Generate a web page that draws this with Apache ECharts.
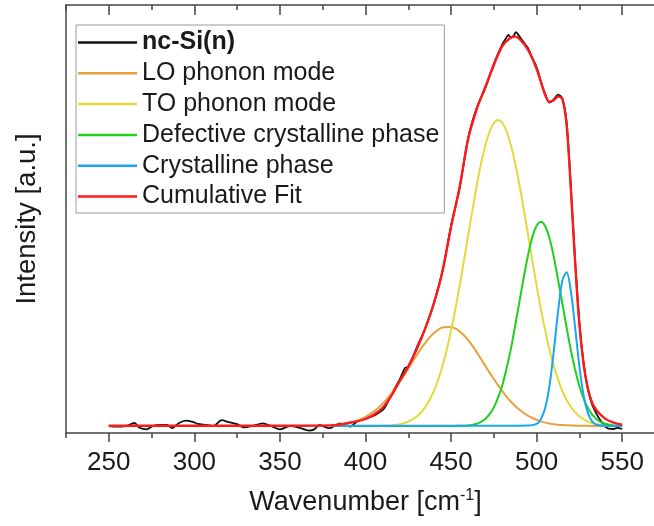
<!DOCTYPE html>
<html>
<head>
<meta charset="utf-8">
<script src="https://cdn.jsdelivr.net/npm/echarts@6/dist/echarts.min.js"></script>
<style>
html,body{margin:0;padding:0;background:#fff;overflow:hidden;width:654px;height:526px;}
#c{width:690px;height:526px;}
</style>
</head>
<body>
<div id="c"></div>
<script>
// ---- data ----
const seriesNames = ['nc-Si(n)', 'LO phonon mode', 'TO phonon mode', 'Defective crystalline phase', 'Crystalline phase', 'Cumulative Fit'];
const xTickLabels = [250, 300, 350, 400, 450, 500, 550];

// measured spectrum
const dataWn  = [250,255,260,265,268,272,276,280,284,287,291,295,299,302,307,311,316,320,325,329,334,340,345,350,356,362,367,370,373,379,385,391,396,401,406,411,415,420,423,425,430,435,440,445,450,455,460,465,470,475,480,482,483.5,485,486.5,488,489.5,492,495,497,500,503,505,507.5,510,512.5,515,517.5,520,522.5,525,527.5,530,532.5,535,537.5,540,542,545,547,550];
const dataInt = [1.75,1.6,1.7,2.5,1.3,0.9,1.8,2.0,2.0,1.2,2.5,3.1,2.8,2.3,2.0,1.7,3.2,2.7,2.2,1.4,1.75,2.4,1.7,0.9,1.8,1.2,0.6,0.9,2.0,1.2,2.4,1.6,3.2,3.7,4.6,6.2,9.6,13.4,16.2,16.6,21.4,26.3,32.5,40.5,51.8,61.2,73.8,81.3,86.2,92.3,97.2,98.6,99.5,98.8,99.3,100.2,99.4,97.9,96.2,94.2,91.4,87.2,84.8,82.6,83.4,84.6,83.6,77.8,61.5,43,27.5,17.2,10.8,7.0,4.8,3.0,1.6,1.1,1.0,1.3,1.0];

// cumulative fit
const fitWn  = [250,300,350,380,385,390,395,400,405,410,415,420,425,430,435,440,445,450,455,460,465,470,475,480,485,487.5,490,495,500,505,507.5,510,512.5,515,517.5,520,522.5,525,527.5,530,532.5,535,540,545,550];
const fitInt = [1.8,1.8,1.8,1.9,2.1,2.5,2.9,3.5,4.6,6.3,9.2,13,16.6,21,26.2,32.5,40.5,51.5,61.5,73.5,81,86.5,92,96.8,98.9,99.1,98.5,95.8,91,84.5,82.8,83.2,84.1,83.5,77,61,42.5,27,17,11,7.5,5.7,3.6,2.6,2.1];

// fitted components
const compWn = [380,385,390,395,400,405,410,415,420,425,430,435,440,445,450,455,460,465,467.5,470,472.5,475,477.5,480,482.5,485,487.5,490,492.5,495,497.5,500,502.5,505,507.5,510,515,520,525,530,535,540,545,550];
const loInt  = [1.95,2.15,2.5,3.1,4.05,5.4,7.35,9.8,12.8,16.15,19.5,22.6,25,26.4,26.5,25.4,23.2,20.2,18.5,16.8,15.1,13.5,11.9,10.4,9.05,7.8,6.75,5.8,5.0,4.3,3.75,3.3,2.9,2.6,2.4,2.2,2.0,1.9,1.8,1.8,1.75,1.75,1.75,1.75];
const toInt  = [1.75,1.75,1.75,1.75,1.75,1.75,1.8,1.9,2.2,2.85,4.1,6.5,10.5,16.75,25.6,36.8,49.4,61.9,67.3,71.9,75.35,77.5,78.25,77.5,75.35,71.9,67.3,61.9,55.85,49.4,43.0,36.8,30.9,25.6,20.8,16.75,10.5,6.5,4.1,2.85,2.2,1.9,1.8,1.75];
const defInt = [1.75,1.75,1.75,1.75,1.75,1.75,1.75,1.75,1.75,1.75,1.75,1.75,1.75,1.75,1.75,1.8,1.9,2.3,2.8,3.5,4.7,6.4,8.9,12,16.3,21.1,27.0,32.9,39.0,44.5,49.0,51.8,52.8,51.7,48.7,44.1,32.4,20.7,11.7,6.2,3.45,2.3,1.9,1.8];

const cryWn  = [380,400,420,440,460,480,495,500,502.5,505,507.5,510,512.5,515,517.5,520,522.5,525,527.5,530,532.5,535,540,545,550];
const cryInt = [1.8,1.8,1.8,1.8,1.8,1.8,1.85,2.3,3.45,6.3,11.8,20.4,30.3,38.1,40.2,35.5,26.3,16.6,9.2,4.9,2.85,2.05,1.8,1.75,1.75];

// ---- chart ----
const pair = (xs, ys) => xs.map((x, i) => [x, ys[i]]);
const FONT = '"Liberation Sans", Arial, sans-serif';
const TXT = '#1a1a1a';
const AX = '#444';

const colors = ['#111111', '#E6A23C', '#E3DA3A', '#1FD11F', '#1CA6F2', '#FF1A1A'];
const widths = [1.8, 2, 2, 2, 2, 2.4];
const sets = [pair(dataWn, dataInt), pair(compWn, loInt), pair(compWn, toInt), pair(compWn, defInt), pair(cryWn, cryInt), pair(fitWn, fitInt)];

const chart = echarts.init(document.getElementById('c'), null, {renderer: 'canvas'});
const gridLeft = 66, gridTop = 5, gridW = 599, gridH = 428;
const xMin = 225, xMax = 575;
const pxPerUnit = gridW / (xMax - xMin);

chart.setOption({
  animation: false,
  color: colors,
  grid: [
    {left: gridLeft, top: gridTop, width: gridW, height: gridH, outerBoundsMode: 'none', containLabel: false},
    {left: gridLeft + (250 - xMin) * pxPerUnit, top: gridTop, width: gridW, height: gridH, outerBoundsMode: 'none', containLabel: false}
  ],
  legend: {
    data: seriesNames,
    orient: 'vertical',
    left: 76, top: 25,
    padding: [5, 5, 4, 2],
    itemGap: 5.8,
    itemWidth: 59,
    itemHeight: 2.5,
    icon: 'rect',
    borderColor: '#9a9a9a',
    borderWidth: 1,
    textStyle: {fontFamily: FONT, fontSize: 25, color: TXT, lineHeight: 25,
      rich: {b: {fontFamily: FONT, fontSize: 25, fontWeight: 'bold', color: TXT, lineHeight: 25}}},
    formatter: function (n) { return n === seriesNames[0] ? '{b|' + n + '}' : n; }
  },
  xAxis: [
    {
      gridIndex: 0, type: 'value', position: 'bottom', min: xMin, max: xMax, interval: 25,
      axisLine: {show: true, lineStyle: {color: AX, width: 1.5}},
      axisTick: {show: true, length: 5, lineStyle: {color: AX, width: 1.5}},
      axisLabel: {show: false},
      splitLine: {show: false},
      name: '{a|Wavenumber [cm}{s|-1}{a|]}',
      nameLocation: 'middle', nameGap: 55,
      nameTextStyle: {rich: {
        a: {fontFamily: FONT, fontSize: 27, color: TXT, lineHeight: 30},
        s: {fontFamily: FONT, fontSize: 16, color: TXT, lineHeight: 16, verticalAlign: 'top'}
      }}
    },
    {
      gridIndex: 0, type: 'value', position: 'top', min: xMin, max: xMax, interval: 25,
      axisLine: {show: true, lineStyle: {color: AX, width: 1.5}},
      axisTick: {show: true, inside: true, length: 5, lineStyle: {color: AX, width: 1.5}},
      axisLabel: {show: false}, splitLine: {show: false}
    },
    {
      gridIndex: 1, type: 'value', position: 'bottom', min: 250, max: 600, interval: 50,
      axisLine: {show: false},
      axisTick: {show: true, length: 9, lineStyle: {color: AX, width: 1.5}},
      axisLabel: {show: true, margin: 17, fontFamily: FONT, fontSize: 26, color: TXT,
        formatter: function (v) { return xTickLabels.indexOf(v) >= 0 ? String(v) : ''; }},
      splitLine: {show: false}
    },
    {
      gridIndex: 1, type: 'value', position: 'top', min: 250, max: 600, interval: 50,
      axisLine: {show: false},
      axisTick: {show: true, inside: true, length: 10, lineStyle: {color: AX, width: 1.5}},
      axisLabel: {show: false}, splitLine: {show: false}
    }
  ],
  yAxis: [
    {
      gridIndex: 0, type: 'value', min: 0, max: 107,
      axisLine: {show: true, lineStyle: {color: AX, width: 1.5}},
      axisTick: {show: false}, axisLabel: {show: false}, splitLine: {show: false},
      name: 'Intensity [a.u.]', nameLocation: 'middle', nameGap: 25,
      nameTextStyle: {fontFamily: FONT, fontSize: 27.5, color: TXT}
    },
    {gridIndex: 1, type: 'value', min: 0, max: 107, show: false}
  ],
  series: seriesNames.map((n, i) => ({
    name: n, type: 'line', xAxisIndex: 0, yAxisIndex: 0,
    data: sets[i], symbol: 'none', smooth: 0.3,
    lineStyle: {color: colors[i], width: widths[i]},
    itemStyle: {color: colors[i]},
    z: 2 + i
  }))
});
</script>
</body>
</html>
